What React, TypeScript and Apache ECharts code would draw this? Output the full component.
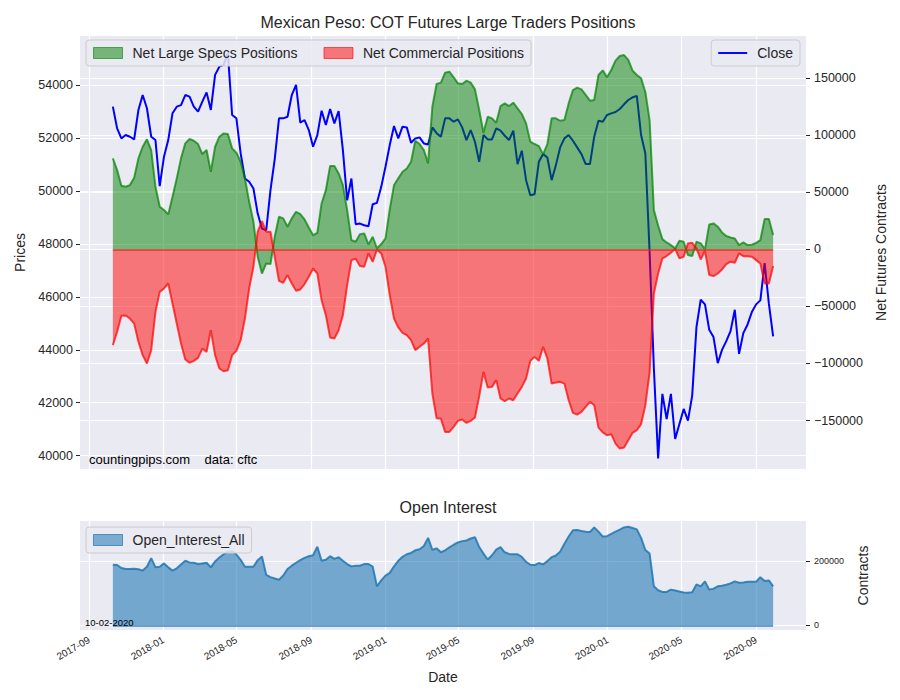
import React, { useEffect, useRef } from "react";
import * as echarts from "echarts";

// Weekly COT report dates (Tuesdays), first 2017-10-10, last 2020-09-29
const FIRST_REPORT = Date.UTC(2017, 9, 10);
const WEEK_MS = 7 * 86400000;

const closePrices = [
  53180, 52360, 51980, 52110, 52045, 51944, 53055, 53620, 53120, 52045,
  51920, 50180, 51290, 51920, 52930, 53180, 53240, 53620, 53560, 53180,
  52990, 53370, 53720, 53055, 54380, 54690, 54757, 55198, 52865, 52740,
  51415, 50468, 50342, 50090, 49144, 48577, 48514, 50027, 51200, 52739,
  52739, 52800, 53620, 54000, 52575, 52676, 52297, 51667, 52108, 53029,
  52487, 53092, 52550, 53016, 51540, 49649, 50469, 48740, 48766, 48703,
  48665, 49497, 49548, 50153, 50910, 51730, 52449, 51982, 52424, 52398,
  51818, 51982, 52020, 51793, 51755, 52398, 52180, 52046, 52739, 52739,
  52613, 52701, 52398, 51919, 52297, 51856, 51099, 52108, 51944, 51944,
  52361, 52272, 52083, 51919, 52272, 51011, 51516, 50405, 49838, 49876,
  51099, 51389, 51263, 50405, 50973, 51642, 51982, 52108, 51894, 51642,
  51389, 51011, 51011, 52046, 52651, 52613, 52865, 52928, 52979, 53092,
  53269, 53433, 53534, 53584, 52108, 51415, 47700, 43300, 39900, 42333,
  41387, 42333, 40630, 41198, 41765, 41324, 42270, 44856, 45890, 45714,
  44755, 44478, 43494, 43998, 44326, 44705, 45512, 43847, 44629, 44957,
  45423, 45714, 45865, 47277, 45739, 44503,
];

const netLargeSpecs = [
  79800, 69600, 55800, 54900, 56400, 62840, 79800, 90000, 96500, 87100,
  54900, 37400, 34500, 30700, 46200, 62300, 79800, 93000, 96800, 95300,
  92400, 83600, 87100, 68100, 90000, 98800, 101700, 101100, 88600, 84800,
  76900, 62300, 41800, 24200, -6400, -21100, -12300, -12900, 11100, 28600,
  27200, 19900, 27200, 33000, 31000, 26300, 19300, 12500, 14600, 40300,
  52000, 73100, 73100, 66600, 56400, 34500, 8200, 6700, 13400, 14000,
  4400, 11100, 900, 4700, 9600, 35100, 56400, 62300, 68100, 71000,
  76900, 95300, 92400, 87100, 75400, 125100, 145000, 146200, 155000, 155800,
  150900, 145600, 145000, 147900, 146200, 140300, 122200, 102300, 116300, 114900,
  111100, 125700, 128000, 125700, 128600, 123700, 118700, 110500, 94400, 92400,
  90600, 83300, 92400, 114900, 114900, 112800, 113400, 128000, 139700, 141800,
  140300, 135400, 130400, 131000, 152900, 157000, 150900, 157300, 165500, 169600,
  170400, 166100, 156700, 152900, 150000, 138000, 113400, 34500, 21000, 9000,
  6100, 3800, 900, 7600, 6700, -5000, -5800, 6700, 5300, 0,
  21900, 22800, 19900, 14900, 11700, 10500, 9600, 3800, 6100, 3800,
  4100, 5800, 8200, 26600, 26600, 12600,
];

const netCommercial = [
  -83900, -72200, -58200, -57900, -60600, -65000, -81000, -92700, -100000, -88300,
  -54700, -37200, -34200, -29900, -47400, -65000, -82500, -96500, -99400, -97700,
  -95100, -86900, -89800, -70800, -92700, -104400, -106800, -105900, -92700, -88900,
  -79600, -60600, -34200, -15200, 15500, 24800, 15500, 15500, -6500, -27500,
  -29300, -22500, -29900, -36300, -35100, -30400, -24000, -16700, -21100, -44500,
  -57600, -77200, -78100, -70800, -57600, -31300, -9400, -8200, -14600, -15200,
  -3500, -10900, 0, -3500, -15200, -40100, -60600, -68400, -73100, -75200,
  -79600, -88300, -85400, -82500, -78100, -126300, -148000, -148300, -160000, -160000,
  -155600, -150300, -149100, -152100, -150300, -147400, -128700, -107300, -121100, -120500,
  -114600, -130700, -133100, -130700, -132200, -126300, -120500, -113200, -97700, -94200,
  -97700, -85400, -95600, -117600, -116700, -116100, -117600, -132200, -143300, -144800,
  -142400, -138000, -133600, -136600, -156200, -160400, -162900, -162000, -170200, -174600,
  -173700, -167300, -160800, -158500, -153200, -136600, -108000, -38600, -21100, -7900,
  -5800, -2900, 600, -7900, -6400, 5300, 5800, 900, -8800, -1200,
  -22500, -23400, -21100, -17600, -12900, -10800, -11700, -3500, -5900, -5900,
  -6500, -9400, -12300, -29800, -29800, -14600,
];

const openInterest = [
  187800, 186800, 177700, 174600, 174600, 175600, 173600, 169600, 181700, 208100,
  179700, 181700, 191900, 179700, 169600, 176700, 188800, 200000, 194900, 193900,
  189800, 191900, 193900, 179700, 198000, 210100, 220300, 228400, 230400, 219300,
  203000, 181700, 181700, 181700, 202000, 213200, 156400, 149300, 145200, 141200,
  154300, 174600, 184800, 193900, 202000, 209100, 214200, 217200, 243600, 200000,
  203000, 214200, 206100, 211200, 200000, 189800, 182700, 184800, 184800, 189800,
  189800, 181700, 120800, 139100, 154300, 162500, 182700, 200000, 212200, 220300,
  224300, 232500, 235500, 245700, 271000, 234000, 238600, 226400, 232500, 241600,
  249700, 256800, 260900, 262900, 269000, 273100, 242600, 222300, 204100, 217200,
  234500, 242600, 226400, 221300, 220300, 220300, 212200, 196900, 187800, 186800,
  192900, 188800, 199000, 211200, 216200, 228400, 252800, 275100, 294400, 295400,
  292300, 290300, 289300, 303500, 290300, 275100, 276100, 283200, 290300, 296400,
  303500, 305500, 301500, 297400, 271000, 233500, 222300, 120800, 108700, 103600,
  103600, 110700, 107700, 104600, 101600, 100600, 102600, 126900, 120800, 136100,
  110700, 113700, 120800, 122900, 125900, 130000, 136100, 132000, 133000, 135100,
  135100, 135100, 149300, 137100, 139100, 120800,
];

const dateTickLabels = [
  "2017-09", "2018-01", "2018-05", "2018-09", "2019-01",
  "2019-05", "2019-09", "2020-01", "2020-05", "2020-09",
];
const priceTicks = [40000, 42000, 44000, 46000, 48000, 50000, 52000, 54000];
const netTicks = [-150000, -100000, -50000, 0, 50000, 100000, 150000];
const oiTicks = [0, 200000];

const reportDates = closePrices.map((_, i) => FIRST_REPORT + i * WEEK_MS);
const dateTicks = dateTickLabels.map((s) =>
  Date.UTC(Number(s.slice(0, 4)), Number(s.slice(5, 7)) - 1, 1)
);

const FONT = '"Liberation Sans", Arial, Helvetica, sans-serif';
const TXT = "#262626";
const BG = "#EAEAF2";

const fmtMonth = (v: number) => {
  const d = new Date(v);
  const m = d.getUTCMonth() + 1;
  return `${d.getUTCFullYear()}-${m < 10 ? "0" + m : m}`;
};
const fmtPlain = (v: number) => (v < 0 ? "\u2212" + String(Math.round(-v)) : String(Math.round(v)));

const pairs = (arr: number[]) => arr.map((v, i) => [reportDates[i], v]);

function buildOption(): any {
  const xMin = Date.UTC(2017, 7, 17);
  const xMax = Date.UTC(2020, 10, 22);
  const splitLine = { show: true, lineStyle: { color: "#ffffff", width: 1.2 } };
  const legendBox = {
    backgroundColor: "rgba(234,234,242,0.85)",
    borderColor: "#cccccc",
    borderWidth: 1,
    borderRadius: 3,
    padding: [6, 7, 6, 7],
    selectedMode: false,
    textStyle: { fontFamily: FONT, fontSize: 14, color: TXT, padding: [0, 0, 0, 5] },
  };
  return {
    animation: false,
    backgroundColor: "#ffffff",
    textStyle: { fontFamily: FONT },
    title: [
      {
        text: "Mexican Peso: COT Futures Large Traders Positions",
        left: 443,
        top: 9,
        textAlign: "center",
        textStyle: { fontFamily: FONT, fontSize: 16, fontWeight: "normal", color: TXT },
      },
      {
        text: "Open Interest",
        left: 443,
        top: 494,
        textAlign: "center",
        textStyle: { fontFamily: FONT, fontSize: 16, fontWeight: "normal", color: TXT },
      },
    ],
    legend: [
      {
        ...legendBox,
        left: 86,
        top: 40,
        itemWidth: 29,
        itemHeight: 11,
        itemGap: 26,
        data: [
          {
            name: "Net Large Specs Positions",
            icon: "rect",
            itemStyle: { color: "rgba(0,128,0,0.5)", borderColor: "rgba(0,128,0,0.6)", borderWidth: 1 },
          },
          {
            name: "Net Commercial Positions",
            icon: "rect",
            itemStyle: { color: "rgba(255,0,0,0.5)", borderColor: "rgba(255,0,0,0.6)", borderWidth: 1 },
          },
        ],
      },
      {
        ...legendBox,
        right: 100,
        top: 40,
        itemWidth: 29,
        itemHeight: 12,
        data: [
          {
            name: "Close",
            icon: "path://M0,0 L30,0 L30,2 L0,2 Z",
            itemStyle: { color: "#0000ff", borderWidth: 0 },
          },
        ],
      },
      {
        ...legendBox,
        left: 86,
        top: 527,
        itemWidth: 29,
        itemHeight: 11,
        data: [
          {
            name: "Open_Interest_All",
            icon: "rect",
            itemStyle: { color: "rgba(31,119,180,0.55)", borderColor: "rgba(31,119,180,0.7)", borderWidth: 1 },
          },
        ],
      },
    ],
    grid: [
      { left: 80, top: 36, width: 726, height: 433, show: true, backgroundColor: BG, borderWidth: 0 },
      { left: 80, top: 521, width: 726, height: 109, show: true, backgroundColor: BG, borderWidth: 0 },
    ],
    xAxis: [
      {
        type: "value",
        gridIndex: 0,
        min: xMin,
        max: xMax,
        axisLine: { show: false },
        axisTick: { show: false, customValues: dateTicks },
        axisLabel: { show: false, customValues: dateTicks },
        splitLine,
      },
      {
        type: "value",
        gridIndex: 1,
        min: xMin,
        max: xMax,
        name: "Date",
        nameLocation: "middle",
        nameGap: 40,
        nameTextStyle: { fontFamily: FONT, fontSize: 14, color: TXT },
        axisLine: { show: false },
        axisTick: { show: false, customValues: dateTicks },
        axisLabel: {
          customValues: dateTicks,
          formatter: (v: number) => fmtMonth(v),
          rotate: 30,
          margin: 9,
          fontFamily: FONT,
          fontSize: 10,
          color: TXT,
        },
        splitLine,
      },
    ],
    yAxis: [
      {
        type: "value",
        gridIndex: 0,
        position: "left",
        min: 39498,
        max: 55849,
        name: "Prices",
        nameLocation: "middle",
        nameRotate: 90,
        nameGap: 52,
        nameTextStyle: { fontFamily: FONT, fontSize: 14, color: TXT },
        axisLine: { show: false },
        axisTick: { show: true, customValues: priceTicks, length: 4, lineStyle: { color: TXT } },
        axisLabel: {
          customValues: priceTicks,
          formatter: (v: number) => fmtPlain(v),
          margin: 7,
          fontFamily: FONT,
          fontSize: 12.5,
          color: TXT,
        },
        splitLine,
      },
      {
        type: "value",
        gridIndex: 0,
        position: "right",
        min: -192500,
        max: 187100,
        name: "Net Futures Contracts",
        nameLocation: "middle",
        nameRotate: 90,
        nameGap: 62,
        nameTextStyle: { fontFamily: FONT, fontSize: 14, color: TXT },
        axisLine: { show: false },
        axisTick: { show: true, customValues: netTicks, length: 4, lineStyle: { color: TXT } },
        axisLabel: {
          customValues: netTicks,
          formatter: (v: number) => fmtPlain(v),
          margin: 8,
          fontFamily: FONT,
          fontSize: 12.5,
          color: TXT,
        },
        splitLine,
      },
      {
        type: "value",
        gridIndex: 1,
        position: "right",
        min: -14500,
        max: 323300,
        name: "Contracts",
        nameLocation: "middle",
        nameRotate: 90,
        nameGap: 50,
        nameTextStyle: { fontFamily: FONT, fontSize: 14, color: TXT },
        axisLine: { show: false },
        axisTick: { show: true, customValues: oiTicks, length: 4, lineStyle: { color: TXT } },
        axisLabel: {
          customValues: oiTicks,
          formatter: (v: number) => fmtPlain(v),
          margin: 8,
          fontFamily: FONT,
          fontSize: 9,
          color: TXT,
        },
        splitLine,
      },
    ],
    series: [
      {
        name: "Close",
        type: "line",
        xAxisIndex: 0,
        yAxisIndex: 0,
        data: pairs(closePrices),
        symbol: "none",
        color: "#0000ff",
        lineStyle: { color: "#0000ff", width: 2 },
        emphasis: { disabled: true },
        z: 2,
      },
      {
        name: "Net Large Specs Positions",
        type: "line",
        xAxisIndex: 0,
        yAxisIndex: 1,
        data: pairs(netLargeSpecs),
        symbol: "none",
        color: "#008000",
        lineStyle: { color: "rgba(0,128,0,0.7)", width: 2 },
        areaStyle: { color: "rgb(0,128,0)", opacity: 0.5, origin: "auto" },
        emphasis: { disabled: true },
        z: 3,
      },
      {
        name: "Net Commercial Positions",
        type: "line",
        xAxisIndex: 0,
        yAxisIndex: 1,
        data: pairs(netCommercial),
        symbol: "none",
        color: "#ff0000",
        lineStyle: { color: "rgba(255,0,0,0.7)", width: 2 },
        areaStyle: { color: "rgb(255,0,0)", opacity: 0.5, origin: "auto" },
        emphasis: { disabled: true },
        markLine: {
          silent: true,
          symbol: "none",
          label: { show: false },
          lineStyle: { color: "rgba(215,45,30,0.85)", width: 1.6, type: "solid" },
          data: [[{ coord: [reportDates[0], 0] }, { coord: [reportDates[reportDates.length - 1], 0] }]],
        },
        z: 3,
      },
      {
        name: "Open_Interest_All",
        type: "line",
        xAxisIndex: 1,
        yAxisIndex: 2,
        data: pairs(openInterest),
        symbol: "none",
        color: "#1f77b4",
        lineStyle: { color: "rgba(31,119,180,0.85)", width: 2 },
        areaStyle: { color: "rgb(31,119,180)", opacity: 0.58, origin: "auto" },
        emphasis: { disabled: true },
        markLine: {
          silent: true,
          symbol: "none",
          label: { show: false },
          lineStyle: { color: "rgba(31,119,180,0.85)", width: 1.5, type: "solid" },
          data: [[{ coord: [reportDates[0], 0] }, { coord: [reportDates[reportDates.length - 1], 0] }]],
        },
        z: 3,
      },
    ],
    graphic: [
      {
        type: "text",
        x: 89,
        y: 459,
        style: {
          text: "countingpips.com    data: cftc",
          fontFamily: FONT,
          fontSize: 13,
          fill: "#000000",
          verticalAlign: "middle",
        },
        z: 10,
      },
      {
        type: "text",
        x: 85,
        y: 622,
        style: {
          text: "10-02-2020",
          fontFamily: FONT,
          fontSize: 9.5,
          fill: "#000000",
          verticalAlign: "middle",
        },
        z: 10,
      },
    ],
  };
}

export default function App() {
  const ref = useRef<HTMLDivElement>(null);
  useEffect(() => {
    if (!ref.current) return;
    const chart = echarts.init(ref.current, null, { renderer: "svg" });
    chart.setOption(buildOption());
    return () => {
      chart.dispose();
    };
  }, []);
  return (
    <div
      ref={ref}
      style={{ position: "absolute", left: 0, top: 0, width: 900, height: 700, background: "#ffffff" }}
    />
  );
}
